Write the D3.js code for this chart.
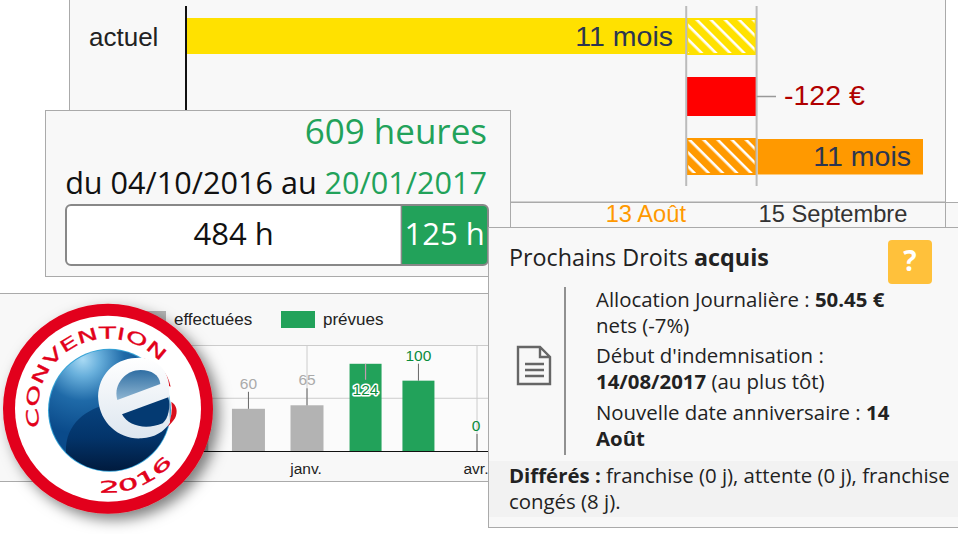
<!DOCTYPE html>
<html><head><meta charset="utf-8">
<script src="https://cdn.jsdelivr.net/npm/d3@7/dist/d3.min.js"></script>
<style>html,body{margin:0;padding:0;background:#fff;overflow:hidden}svg{display:block}</style>
</head><body>
<script>
const hoursMonths = ["2016-11-01","2016-12-01","2017-01-01","2017-02-01","2017-03-01","2017-04-01"];
const hoursValues = [60,60,65,124,100,0];
const hoursKinds = ["done","done","done","planned","planned","planned"];
const hoursTicks = ["2017-01-01","2017-04-01"];
const hoursTickLabels = ["janv.","avr."];
const hoursGrid = [75,150];
const legendLabels = ["effectuées","prévues"];
const timelineDates = {start:"2016-12-22",aug:"2017-08-13",sep:"2017-09-15",end:"2017-12-02"};
const progressValues = [484,125];

const FR = "'Open Sans',sans-serif", AR = "'Liberation Sans',Arial,sans-serif";
const GREEN="#22a25a";
const svg = d3.select("body").append("svg").attr("width",958).attr("height",534);
const defs = svg.append("defs");
function hatch(id,color){
  const p=defs.append("pattern").attr("id",id).attr("width",10).attr("height",10)
    .attr("patternUnits","userSpaceOnUse").attr("patternTransform","rotate(45)");
  p.append("rect").attr("width",10).attr("height",10).attr("fill",color);
  p.append("rect").attr("width",10).attr("height",2.6).attr("fill","#fff");
}
hatch("hy","#ffe100"); hatch("ho","#ff9900");
const blur=defs.append("filter").attr("id","sh").attr("x","-20%").attr("y","-20%").attr("width","150%").attr("height","150%");
blur.append("feDropShadow").attr("dx",6).attr("dy",6).attr("stdDeviation",7).attr("flood-color","#000").attr("flood-opacity",.5);
const rg=defs.append("radialGradient").attr("id","sphere").attr("cx","28%").attr("cy","8%").attr("r","62%");
[[0,"#a9daf4"],[.22,"#69b0dc"],[.55,"#1f6aa8"],[1,"#0a4a8a"]].forEach(s=>rg.append("stop").attr("offset",s[0]).attr("stop-color",s[1]));
const lgd=defs.append("linearGradient").attr("id","lower").attr("x1",0).attr("y1",0).attr("x2",0).attr("y2",1);
[[0,"#0a4a88"],[.55,"#03346a"],[1,"#001636"]].forEach(s=>lgd.append("stop").attr("offset",s[0]).attr("stop-color",s[1]));
defs.append("clipPath").attr("id","sphereClip").append("circle").attr("cx",109.5).attr("cy",410.3).attr("r",60.5);
const lg=defs.append("linearGradient").attr("id","upper").attr("x1",0).attr("y1",0).attr("x2",0).attr("y2",1);
[[0,"#2f6ea3"],[1,"#8fb6d2"]].forEach(s=>lg.append("stop").attr("offset",s[0]).attr("stop-color",s[1]));
const lg2=defs.append("linearGradient").attr("id","white").attr("x1",0).attr("y1",0).attr("x2",0).attr("y2",1);
[[0,"#ffffff"],[1,"#dde6ef"]].forEach(s=>lg2.append("stop").attr("offset",s[0]).attr("stop-color",s[1]));

function txt(g,x,y,s,o={}){
  return g.append("text").attr("x",x).attr("y",y).text(s)
   .attr("font-family",o.f||AR).attr("font-size",o.s||14).attr("fill",o.c||"#222")
   .attr("font-weight",o.w||400).attr("text-anchor",o.a||"start");
}
/* ---------- top timeline panel ---------- */
const top_=svg.append("g");
top_.append("rect").attr("x",69.5).attr("y",-2).attr("width",876).attr("height",204).attr("fill","#f8f8f8").attr("stroke","#aaa");
top_.append("rect").attr("x",510).attr("y",202).attr("width",448).attr("height",25).attr("fill","#f8f8f8");
top_.append("line").attr("x1",510).attr("x2",958).attr("y1",202.5).attr("y2",202.5).attr("stroke","#aaa");
top_.append("line").attr("x1",945.5).attr("x2",945.5).attr("y1",202).attr("y2",228).attr("stroke","#aaa");
const p=d3.timeParse("%Y-%m-%d");
const tx=d3.scaleTime().domain([p(timelineDates.start),p(timelineDates.end)]).range([187,923]);
const xa=tx(p(timelineDates.aug)), xs=tx(p(timelineDates.sep));
top_.append("rect").attr("x",tx(p(timelineDates.start))).attr("y",18).attr("width",xa-187).attr("height",36).attr("fill","#ffe100");
top_.append("rect").attr("x",xa).attr("y",18).attr("width",xs-xa).attr("height",37).attr("fill","#ffe100");
top_.append("rect").attr("x",xa+2).attr("y",20).attr("width",xs-xa-4).attr("height",33).attr("fill","url(#hy)");
top_.append("rect").attr("x",xa).attr("y",77).attr("width",xs-xa).attr("height",39).attr("fill","#ff0000");
top_.append("rect").attr("x",xa).attr("y",138).attr("width",xs-xa).attr("height",37).attr("fill","#ff9900");
top_.append("rect").attr("x",xa+2).attr("y",140).attr("width",xs-xa-4).attr("height",33).attr("fill","url(#ho)");
top_.append("rect").attr("x",xs+1).attr("y",139).attr("width",tx(p(timelineDates.end))-xs-1).attr("height",35.5).attr("fill","#ff9900");
[xa,xs].forEach(x=>top_.append("line").attr("x1",x).attr("x2",x).attr("y1",6).attr("y2",186).attr("stroke","#bbb").attr("stroke-width",2));
top_.append("line").attr("x1",186).attr("x2",186).attr("y1",6).attr("y2",112).attr("stroke","#111").attr("stroke-width",2);
top_.append("line").attr("x1",xs).attr("x2",776).attr("y1",96.5).attr("y2",96.5).attr("stroke","#999").attr("stroke-width",1.5);
txt(top_,89,46,"actuel",{s:26,c:"#222"});
txt(top_,673,46,"11 mois",{s:28.5,c:"#2c3650",a:"end"});
txt(top_,784,105,"-122 €",{s:28.5,c:"#b00000"});
txt(top_,911,166,"11 mois",{s:28.5,c:"#2c3650",a:"end"});
txt(top_,686,222,"13 Août",{s:23.7,c:"#ff9900",a:"end"});
txt(top_,833,222,"15 Septembre",{s:23.7,c:"#333",a:"middle"});

/* ---------- bars panel ---------- */
const ch=svg.append("g");
ch.append("rect").attr("x",-2).attr("y",293.5).attr("width",492).attr("height",188).attr("fill","#f8f8f8").attr("stroke","#aaa");
ch.append("rect").attr("x",170).attr("y",345).attr("width",320).attr("height",106).attr("fill","#fbfbfb");
const hx=d3.scaleTime().domain([p("2017-01-01"),p("2017-04-01")]).range([307,477]);
const hy=d3.scaleLinear().domain([0,150]).range([451,345.5]);
hoursGrid.forEach(v=>ch.append("line").attr("x1",170).attr("x2",490).attr("y1",hy(v)).attr("y2",hy(v)).attr("stroke","#ccc").attr("stroke-width",1));
hoursTicks.forEach(d=>ch.append("line").attr("x1",hx(p(d))).attr("x2",hx(p(d))).attr("y1",345).attr("y2",451).attr("stroke","#ccc"));
const kind={done:{fill:"#b3b3b3",text:"#aaa",w:33},planned:{fill:GREEN,text:"#0a8c3c",w:32}};
hoursMonths.forEach((m,i)=>{
  const v=hoursValues[i],k=kind[hoursKinds[i]],x=hx(p(m));
  if(v>0) ch.append("rect").attr("x",x-k.w/2).attr("y",hy(v)).attr("width",k.w).attr("height",hy(0)-hy(v)).attr("fill",k.fill);
  if(v>110){
    ch.append("line").attr("x1",x).attr("x2",x).attr("y1",hy(v)).attr("y2",hy(v)+16).attr("stroke","#c59ab0").attr("stroke-width",1.2);
    txt(ch,x,394.5,v,{s:15.5,c:"#0a8c3c",a:"middle"}).attr("stroke","#fff").attr("stroke-width",3).attr("paint-order","stroke").attr("stroke-linejoin","round");
  } else {
    ch.append("line").attr("x1",x).attr("x2",x).attr("y1",hy(v)).attr("y2",hy(v)-17).attr("stroke","#666");
    txt(ch,x-(v===0?1:0),hy(v)-20,v,{s:15.5,c:k.text,a:"middle"});
  }
});
ch.append("line").attr("x1",170).attr("x2",490).attr("y1",451.5).attr("y2",451.5).attr("stroke","#111").attr("stroke-width",1.2);
hoursTicks.forEach((d,i)=>txt(ch,hx(p(d))-1,474,hoursTickLabels[i],{s:15.5,c:"#222",a:"middle"}));
ch.append("rect").attr("x",132).attr("y",311).attr("width",34).attr("height",17).attr("fill","#b3b3b3");
txt(ch,174,325,legendLabels[0],{s:17,c:"#222"});
ch.append("rect").attr("x",281).attr("y",311).attr("width",34).attr("height",17).attr("fill",GREEN);
txt(ch,323,325,legendLabels[1],{s:17,c:"#222"});

/* ---------- hours card ---------- */
const c2=svg.append("g");
c2.append("rect").attr("x",45.5).attr("y",110.5).attr("width",465).attr("height",166).attr("fill","#f8f8f8").attr("stroke","#aaa");
txt(c2,487,144,"609 heures",{f:FR,s:35,c:GREEN,a:"end"});
const dl=txt(c2,487,194,"",{f:FR,s:30.6,c:"#111",a:"end"});
dl.append("tspan").text("du 04/10/2016 au ");
dl.append("tspan").attr("fill",GREEN).text("20/01/2017");
const px=d3.scaleLinear().domain([0,d3.sum(progressValues)]).range([66,488]);
const barG=c2.append("g");
barG.append("rect").attr("x",66).attr("y",205).attr("width",422).attr("height",60).attr("rx",5).attr("fill","#fff");
barG.append("path").attr("d",`M${px(progressValues[0])} 205H483a5 5 0 0 1 5 5V260a5 5 0 0 1 -5 5H${px(progressValues[0])}Z`).attr("fill",GREEN);
barG.append("rect").attr("x",66).attr("y",205).attr("width",422).attr("height",60).attr("rx",5).attr("fill","none").attr("stroke","#888").attr("stroke-width",2);
barG.append("line").attr("x1",px(progressValues[0])).attr("x2",px(progressValues[0])).attr("y1",205).attr("y2",265).attr("stroke","#888").attr("stroke-width",1.5);
txt(c2,(px(0)+px(progressValues[0]))/2,245,progressValues[0]+" h",{f:FR,s:31,c:"#111",a:"middle"});
txt(c2,(px(progressValues[0])+488)/2,245,progressValues[1]+" h",{f:FR,s:31,c:"#fff",a:"middle"});

/* ---------- rights card ---------- */
const c3=svg.append("g");
c3.append("rect").attr("x",488.5).attr("y",227.5).attr("width",475).attr("height",300).attr("fill","#f8f8f8").attr("stroke","#aaa");
c3.append("rect").attr("x",489).attr("y",461).attr("width",469).attr("height",56).attr("fill","#f2f2f2");
function rich(x,y,parts,s,c){
  const t=txt(c3,x,y,"",{f:FR,s:s,c:c||"#222"});
  parts.forEach(q=>t.append("tspan").attr("font-weight",q[1]?700:400).text(q[0]));
}
rich(509,266,[["Prochains Droits ",0],["acquis",1]],23.3);
c3.append("rect").attr("x",888).attr("y",240).attr("width",44).attr("height",44).attr("rx",4).attr("fill","#ffc13b");
txt(c3,910,271,"?",{f:FR,s:28,c:"#fff",w:700,a:"middle"});
c3.append("line").attr("x1",565).attr("x2",565).attr("y1",287).attr("y2",455).attr("stroke","#777").attr("stroke-width",1.6);
c3.append("path").attr("d","M518 347H540L550 357V384H518Z M540 347V357H550 M525 364H544 M525 370H544 M525 376H544")
  .attr("fill","none").attr("stroke","#666").attr("stroke-width",2.4);
const s3=20.4;
rich(596,307,[["Allocation Journalière : ",0],["50.45 €",1]],s3);
rich(596,333,[["nets (-7%)",0]],s3);
rich(596,363,[["Début d'indemnisation :",0]],s3);
rich(596,389,[["14/08/2017",1],[" (au plus tôt)",0]],s3);
rich(596,420,[["Nouvelle date anniversaire : ",0],["14",1]],s3);
rich(596,446,[["Août",1]],s3);
rich(509,483,[["Différés : ",1],["franchise (0 j), attente (0 j), franchise",0]],s3);
rich(509,509,[["congés (8 j).",0]],s3);

/* ---------- badge ---------- */
const b=svg.append("g");
const CX=108,CY=408.7;
b.append("circle").attr("cx",CX).attr("cy",CY).attr("r",105).attr("fill","#e2001a").attr("filter","url(#sh)");
b.append("circle").attr("cx",CX).attr("cy",CY).attr("r",93).attr("fill","#fff");
b.append("circle").attr("cx",109.5).attr("cy",410.3).attr("r",61.5).attr("fill","#35a3d6");
b.append("circle").attr("cx",109.5).attr("cy",410.3).attr("r",60.5).attr("fill","url(#sphere)");
b.append("g").attr("clip-path","url(#sphereClip)").append("path")
  .attr("transform","translate(0,290) scale(.3333)")
  .attr("d","M198 470C205 390 270 350 350 335L520 300L520 560L198 560Z").attr("fill","url(#lower)");
const z=b.append("g").attr("transform","translate(0,290) scale(.3333)");
z.append("path").attr("d","M430 205C475 215 505 250 512 290L500 285C490 250 465 225 430 205Z M514 335C530 345 535 365 525 385C518 395 510 405 503 410C514 385 518 360 514 335Z").attr("fill","#d8101e");
z.append("path").attr("d","M507 282C500 225 450 195 395 205C330 215 290 270 295 330C300 400 360 450 425 445C465 442 492 425 510 398L508 320Z").attr("fill","url(#white)");
z.append("path").attr("d","M352 330C338 280 380 240 422 240C455 240 478 255 481 282Z").attr("fill","url(#upper)");
z.append("path").attr("d","M366 373L505 322C512 350 506 385 488 400C440 420 385 410 366 373Z").attr("fill","#043a72");
function arc(id,r,a0,a1,sweep){
  const pt=a=>[CX+r*Math.sin(a*Math.PI/180),CY-r*Math.cos(a*Math.PI/180)];
  const s=pt(a0),e=pt(a1);
  defs.append("path").attr("id",id).attr("d",`M${s[0]} ${s[1]}A${r} ${r} 0 ${Math.abs(a1-a0)>180?1:0} ${sweep} ${e[0]} ${e[1]}`);
}
arc("arcTop",70,-105,48,1);
arc("arcBot",84,186,130,0);
const topLen=70*153*Math.PI/180, botLen=84*56*Math.PI/180;
b.append("text").attr("font-family","'DejaVu Sans',sans-serif").attr("font-size",16.5).attr("fill","#e2001a").attr("stroke","#e2001a").attr("stroke-width",.3)
  .append("textPath").attr("href","#arcTop").attr("textLength",topLen).attr("lengthAdjust","spacingAndGlyphs").text("CONVENTION");
b.append("text").attr("font-family","'DejaVu Sans',sans-serif").attr("font-size",16).attr("fill","#e2001a").attr("stroke","#e2001a").attr("stroke-width",.4)
  .append("textPath").attr("href","#arcBot").attr("textLength",botLen).attr("lengthAdjust","spacingAndGlyphs").text("2016");
</script>
</body></html>
